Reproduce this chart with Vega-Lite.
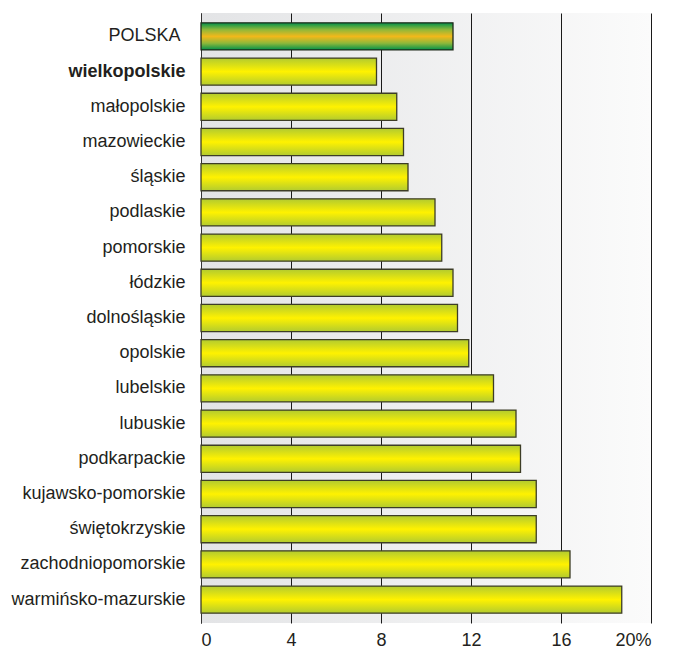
{
  "$schema": "https://vega.github.io/schema/vega-lite/v6.json",
  "width": 450,
  "height": 610,
  "padding": {"left": 10, "top": 13, "right": 20, "bottom": 5},
  "background": "white",
  "config": {
    "font": "Liberation Sans",
    "view": {
      "stroke": null,
      "fill": {
        "gradient": "linear",
        "x1": 0, "y1": 0, "x2": 1, "y2": 0,
        "stops": [
          {"offset": 0, "color": "#e3e4e6"},
          {"offset": 1, "color": "#fbfbfb"}
        ]
      }
    }
  },
  "data": {
    "values": [
      {"region": "POLSKA", "value": 11.2},
      {"region": "wielkopolskie", "value": 7.8},
      {"region": "małopolskie", "value": 8.7},
      {"region": "mazowieckie", "value": 9.0},
      {"region": "śląskie", "value": 9.2},
      {"region": "podlaskie", "value": 10.4},
      {"region": "pomorskie", "value": 10.7},
      {"region": "łódzkie", "value": 11.2},
      {"region": "dolnośląskie", "value": 11.4},
      {"region": "opolskie", "value": 11.9},
      {"region": "lubelskie", "value": 13.0},
      {"region": "lubuskie", "value": 14.0},
      {"region": "podkarpackie", "value": 14.2},
      {"region": "kujawsko-pomorskie", "value": 14.9},
      {"region": "świętokrzyskie", "value": 14.9},
      {"region": "zachodniopomorskie", "value": 16.4},
      {"region": "warmińsko-mazurskie", "value": 18.7}
    ]
  },
  "encoding": {
    "y": {
      "field": "region",
      "type": "nominal",
      "sort": ["POLSKA", "wielkopolskie", "małopolskie", "mazowieckie", "śląskie", "podlaskie", "pomorskie", "łódzkie", "dolnośląskie", "opolskie", "lubelskie", "lubuskie", "podkarpackie", "kujawsko-pomorskie", "świętokrzyskie", "zachodniopomorskie", "warmińsko-mazurskie"],
      "scale": {"paddingInner": 0.23, "paddingOuter": 0.28},
      "axis": {
        "title": null,
        "ticks": false,
        "domain": true,
        "domainColor": "#333333",
        "domainWidth": 1,
        "labelFontSize": 18,
        "labelColor": "#231f20",
        "labelPadding": 16,
        "labelExpr": "datum.value === 'POLSKA' ? 'POLSKA\u00a0\u200b' : datum.value",
        "labelFontWeight": {"condition": {"test": "datum.value === 'wielkopolskie'", "value": "bold"}, "value": "normal"}
      }
    },
    "x": {
      "field": "value",
      "type": "quantitative",
      "scale": {"domain": [0, 20], "nice": false},
      "axis": {
        "title": null,
        "values": [0, 4, 8, 12, 16, 20],
        "ticks": false,
        "domain": false,
        "grid": true,
        "gridColor": "#1a1a1a",
        "gridWidth": 1,
        "gridOpacity": 1,
        "labelFontSize": 18,
        "labelColor": "#231f20",
        "labelPadding": 8,
        "labelExpr": "datum.value === 20 ? '20%' : datum.value"
      }
    }
  },
  "layer": [
    {
      "transform": [{"filter": "datum.region !== 'POLSKA'"}],
      "mark": {
        "type": "bar",
        "stroke": "#3d3d26",
        "strokeWidth": 1.3,
        "color": {
          "gradient": "linear",
          "x1": 0, "y1": 0, "x2": 0, "y2": 1,
          "stops": [
            {"offset": 0, "color": "#b2cb2f"},
            {"offset": 0.5, "color": "#fff200"},
            {"offset": 1, "color": "#b2cb2f"}
          ]
        }
      }
    },
    {
      "transform": [{"filter": "datum.region === 'POLSKA'"}],
      "mark": {
        "type": "bar",
        "stroke": "#1f2a1a",
        "strokeWidth": 1.3,
        "color": {
          "gradient": "linear",
          "x1": 0, "y1": 0, "x2": 0, "y2": 1,
          "stops": [
            {"offset": 0, "color": "#00904a"},
            {"offset": 0.25, "color": "#8fb83a"},
            {"offset": 0.5, "color": "#f2b81a"},
            {"offset": 0.75, "color": "#8fb83a"},
            {"offset": 1, "color": "#00904a"}
          ]
        }
      }
    }
  ]
}
